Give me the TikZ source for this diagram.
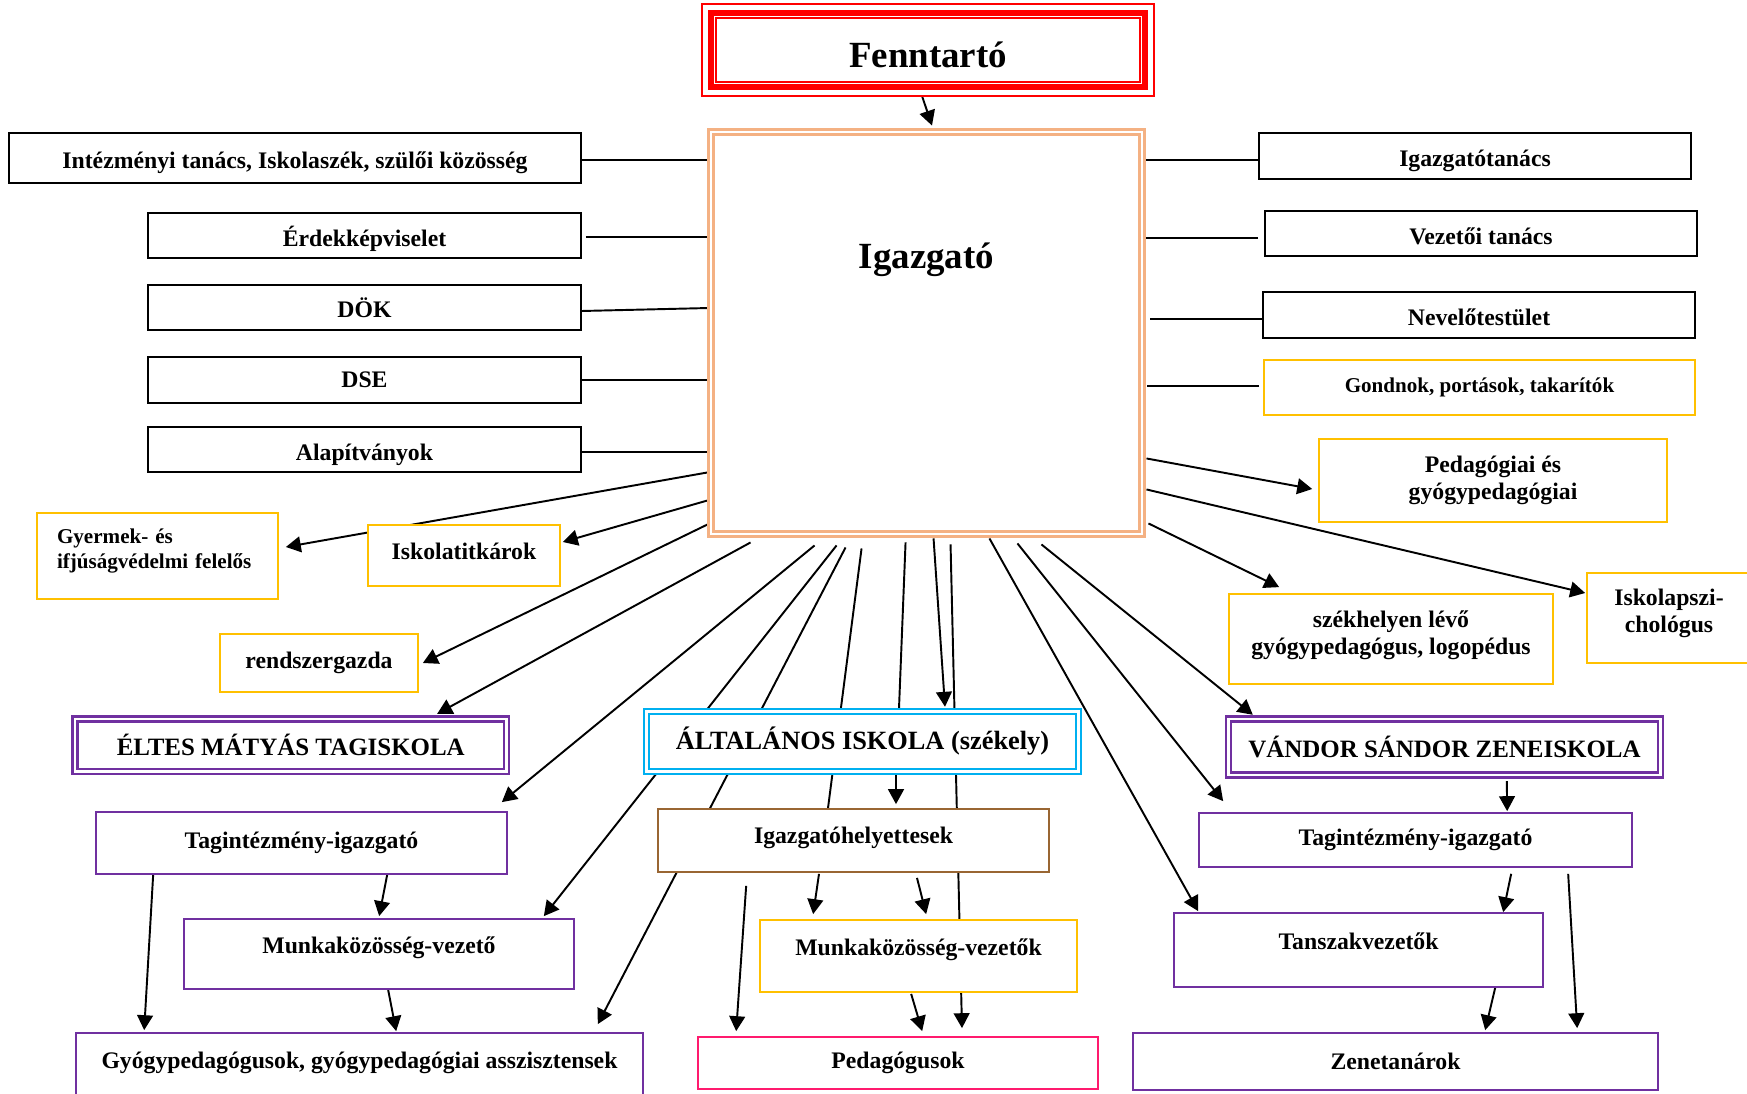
\documentclass[tikz,border=0pt]{standalone}
\usepackage{fontspec}
\setmainfont{Liberation Serif}
\usetikzlibrary{arrows.meta,calc,backgrounds}

\definecolor{fenred}{HTML}{FF0000}
\definecolor{igpeach}{HTML}{F4B183}
\definecolor{boxyellow}{HTML}{FFC000}
\definecolor{schcyan}{HTML}{00B0F0}
\definecolor{schpurple}{HTML}{7030A0}
\definecolor{ighbrown}{HTML}{996633}
\definecolor{pedpink}{HTML}{FF1A6E}

\newcommand{\boxfont}{\fontsize{13.5pt}{15.4pt}\selectfont\bfseries}
\newcommand{\smallboxfont}{\fontsize{12pt}{14.2pt}\selectfont\bfseries}
\newcommand{\schoolfont}{\fontsize{14.2pt}{16pt}\selectfont\bfseries}
\newcommand{\titlefont}{\fontsize{21pt}{24pt}\selectfont\bfseries}

\tikzset{
  box/.style={draw, rectangle, line width=1pt, fill=white, inner sep=2pt, font=\boxfont, align=center},
  blackbox/.style={box, draw=black},
  yellowbox/.style={box, draw=boxyellow},
  purplebox/.style={box, draw=schpurple},
  schoolbox/.style={box, font=\schoolfont, line width=1.4pt, double=white, double distance=1.4pt},
  toptext/.style={text height=10pt, text depth=11pt},
  lowtext/.style={text height=15.5pt, text depth=3pt},
  link/.style={line width=1.1pt},
  arr/.style={link, -{Triangle[length=8.5pt,width=9pt]}}
}

\begin{document}
\begin{tikzpicture}[x=0.02cm, y=-0.02cm]
\useasboundingbox (0,0) rectangle (1747,1094);

% top of the chart
\node (fennt) [box, draw=fenred, line width=3.4pt, font=\titlefont, text height=19.5pt, text depth=0pt, minimum width=8.68cm, minimum height=1.48cm] at (928,50) {Fenntartó};
\draw[fenred, line width=1.1pt] ($(fennt.north west)+(-6,-6)$) rectangle ($(fennt.south east)+(6,6)$);
\draw[fenred, line width=1.1pt] ($(fennt.north west)+(8,8)$) rectangle ($(fennt.south east)+(-8,-8)$);
\node (igaz) [box, draw=igpeach, line width=1.7pt, double=white, double distance=1.1pt, minimum width=8.62cm, minimum height=8.04cm, label={[font=\titlefont, yshift=1.47cm]center:Igazgató}] at (926.5,333) {};

% left column
\node (inttan) [blackbox, lowtext, minimum width=11.44cm, minimum height=1cm] at (295,158) {Intézményi tanács, Iskolaszék, szülői közösség};
\node (erdek) [blackbox, lowtext, minimum width=8.66cm, minimum height=0.9cm] at (364.5,235.5) {Érdekképviselet};
\node (dok) [blackbox, minimum width=8.66cm, minimum height=0.9cm] at (364.5,307.5) {DÖK};
\node (dse) [blackbox, minimum width=8.66cm, minimum height=0.92cm] at (364.5,380) {DSE};
\node (alap) [blackbox, lowtext, minimum width=8.66cm, minimum height=0.9cm] at (364.5,449.5) {Alapítványok};

% right column
\node (igtan) [blackbox, lowtext, minimum width=8.64cm, minimum height=0.92cm] at (1475,156) {Igazgatótanács};
\node (veztan) [blackbox, lowtext, minimum width=8.64cm, minimum height=0.9cm] at (1481,233.5) {Vezetői tanács};
\node (nevtest) [blackbox, lowtext, minimum width=8.64cm, minimum height=0.92cm] at (1479,315) {Nevelőtestület};
\node (gondnok) [yellowbox, font=\smallboxfont, minimum width=8.62cm, minimum height=1.1cm] at (1479.5,387.5) {Gondnok, portások, takarítók};
\node (pedgy) [yellowbox, minimum width=6.96cm, minimum height=1.66cm] at (1493,480.5) {Pedagógiai és\\gyógypedagógiai};
\node (pszich) [yellowbox, text depth=8pt, minimum width=3.28cm, minimum height=1.8cm] at (1669,618) {Iskolapszi-\\chológus};
\node (szekh) [yellowbox, text depth=7pt, minimum width=6.48cm, minimum height=1.8cm] at (1391,639) {székhelyen lévő\\gyógypedagógus, logopédus};
\node (vandor) [schoolbox, draw=schpurple, minimum width=8.64cm, minimum height=1.12cm] at (1444.5,747) {VÁNDOR SÁNDOR ZENEISKOLA};
\node (tagjobb) [purplebox, minimum width=8.66cm, minimum height=1.08cm] at (1415.5,840) {Tagintézmény-igazgató};
\node (tansz) [purplebox, toptext, minimum width=7.38cm, minimum height=1.48cm] at (1358.5,950) {Tanszakvezetők};
\node (zene) [purplebox, minimum width=10.5cm, minimum height=1.14cm] at (1395.5,1061.5) {Zenetanárok};

% lower left
\node (gyermek) [yellowbox, font=\smallboxfont, align=left, text depth=22pt, text width=4.02cm, inner xsep=0.4cm, minimum width=4.82cm, minimum height=1.72cm] at (157.5,556) {Gyermek- és\\ifjúságvédelmi felelős};
\node (titk) [yellowbox, text height=9.5pt, text depth=5pt, minimum width=3.84cm, minimum height=1.22cm] at (464,555.5) {Iskolatitkárok};
\node (rendsz) [yellowbox, minimum width=3.96cm, minimum height=1.16cm] at (319,663) {rendszergazda};
\node (eltes) [schoolbox, draw=schpurple, minimum width=8.63cm, minimum height=1.05cm] at (290.75,745.25) {ÉLTES MÁTYÁS TAGISKOLA};
\node (tagbal) [purplebox, minimum width=8.22cm, minimum height=1.24cm] at (301.5,843) {Tagintézmény-igazgató};
\node (munkbal) [purplebox, toptext, minimum width=7.8cm, minimum height=1.4cm] at (379,954) {Munkaközösség-vezető};
\node (gyogy) [purplebox, toptext, minimum width=11.34cm, minimum height=1.44cm] at (359.5,1069) {Gyógypedagógusok, gyógypedagógiai asszisztensek};

% middle
\node (altal) [schoolbox, draw=schcyan, font=\fontsize{15pt}{17pt}\selectfont\bfseries, minimum width=8.64cm, minimum height=1.2cm] at (862.5,741.5) {ÁLTALÁNOS ISKOLA (székely)};
\node (igh) [box, draw=ighbrown, text height=10pt, text depth=7pt, minimum width=7.82cm, minimum height=1.26cm] at (853.5,840.5) {Igazgatóhelyettesek};
\node (munkvez) [yellowbox, toptext, minimum width=6.34cm, minimum height=1.44cm] at (918.5,956) {Munkaközösség-vezetők};
\node (ped) [box, draw=pedpink, minimum width=8cm, minimum height=1.04cm] at (898,1063) {Pedagógusok};

\begin{scope}[on background layer]
\fill[white] (0,0) rectangle (1747,1094);
% Fenntarto -> Igazgato
\draw[arr] ($(fennt.south)+(-6,6)$) -- ($(igaz.north)+(5.5,-5)$);
% plain lines, left
\draw[link] ($(inttan.east)+(0,2)$) -- ($(inttan.east -| igaz.west)+(0,2)$);
\draw[link] ($(erdek.east)+(4,1.5)$) -- ($(erdek.east -| igaz.west)+(0,1.5)$);
\draw[link] ($(dok.east)+(0,3.5)$) -- ($(dok.east -| igaz.west)+(0,0.5)$);
\draw[link] (dse.east) -- (dse.east -| igaz.west);
\draw[link] ($(alap.east)+(0,2.5)$) -- ($(alap.east -| igaz.west)+(0,2.5)$);
% plain lines, right
\draw[link] ($(igtan.west)+(0,4)$) -- ($(igtan.west -| igaz.east)+(0,4)$);
\draw[link] ($(veztan.west)+(-6,4.5)$) -- ($(veztan.west -| igaz.east)+(3,4.5)$);
\draw[link] ($(nevtest.west)+(0,4)$) -- ($(nevtest.west -| igaz.east)+(7,4)$);
\draw[link] ($(gondnok.west)+(-4,-1.5)$) -- ($(gondnok.west -| igaz.east)+(4,-1.5)$);
% arrows to the left
\draw[arr] ($(igaz.south west)+(-2,-63)$) -- ($(gyermek.east)+(7,-9)$);
\draw[arr] ($(igaz.south west)+(-2,-35)$) -- ($(titk.east)+(2,-13.5)$);
\draw[arr] ($(igaz.south west)+(-2,-11)$) -- ($(rendsz.east)+(4,0)$);
% fan below Igazgato
\draw[arr] ($(igaz.south west)+(41,7)$) -- ($(eltes.north east)+(-70.5,-4)$);
\draw[arr] ($(igaz.south west)+(105,10)$) -- ($(tagbal.north east)+(-6,-9)$);
\draw[arr] ($(igaz.south west)+(127,10)$) -- ($(munkbal.north east)+(-31,-2)$);
\draw[arr] ($(igaz.south west)+(136,12)$) -- ($(gyogy.north east)+(-46,-8)$);
\draw[link] ($(igaz.south west)+(152,13)$) -- ($(igh.north)+(-25.5,0)$);
\draw[link] ($(igaz.south west)+(196,7)$) -- ($(altal.north)+(36.5,-2)$);
\draw[arr] ($(igaz.south west)+(224,3)$) -- ($(altal.north)+(82.5,-3.5)$);
\draw[arr] ($(igaz.south west)+(241,9)$) -- ($(ped.north)+(64,-8)$);
\draw[arr] ($(igaz.south east)+(-154,3)$) -- ($(tansz.north west)+(25,-1)$);
\draw[arr] ($(igaz.south east)+(-126,8)$) -- ($(tagjobb.north west)+(25,-11)$);
\draw[arr] ($(igaz.south east)+(-102,9)$) -- ($(vandor.north west)+(25.5,-3)$);
% arrows to the right
\draw[arr] ($(igaz.south east)+(3,-77)$) -- ($(pedgy.west)+(-6,8.5)$);
\draw[arr] ($(igaz.south east)+(3,-46)$) -- ($(pszich.west)+(-1,-25)$);
\draw[arr] ($(igaz.south east)+(5,-12)$) -- ($(szekh.north west)+(51,-6)$);
% middle column
\draw[arr] ($(altal.south)+(33.5,1.5)$) -- ($(igh.north)+(42.5,-4)$);
\draw[arr] ($(igh.south)+(-34.5,1)$) -- ($(munkvez.north west)+(54,-5)$);
\draw[arr] ($(igh.south)+(63.5,5)$) -- ($(munkvez.north west)+(167,-5)$);
\draw[arr] ($(igh.south west)+(89,13)$) -- ($(ped.north west)+(39,-5)$);
\draw[arr] ($(munkvez.south west)+(152,1)$) -- ($(ped.north west)+(225,-5)$);
% left column
\draw[arr] ($(tagbal.south west)+(292,0)$) -- ($(munkbal.north west)+(196,-2)$);
\draw[arr] ($(tagbal.south west)+(58,0)$) -- ($(gyogy.north west)+(69,-2)$);
\draw[arr] ($(munkbal.south west)+(205,0)$) -- ($(gyogy.north west)+(321,-1)$);
% right column
\draw[arr] ($(vandor.south west)+(279.5,5)$) -- ($(tagjobb.north west)+(309,-1)$);
\draw[arr] ($(tagjobb.south west)+(313,6)$) -- ($(tansz.north west)+(330,0)$);
\draw[arr] ($(tagjobb.south west)+(370,6)$) -- ($(zene.north west)+(445,-4)$);
\draw[arr] ($(tansz.south west)+(322,0)$) -- ($(zene.north west)+(353,-2)$);
\end{scope}
\end{tikzpicture}
\end{document}
